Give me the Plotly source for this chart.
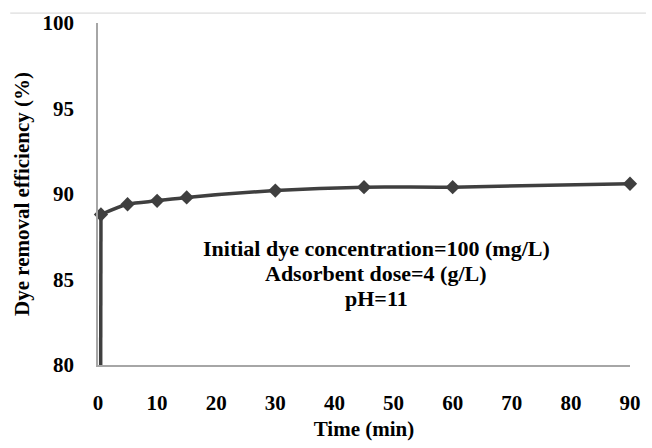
import plotly.graph_objects as go

# Contact time (min) and dye removal efficiency (%)
time_min = [0, 0.5, 5, 10, 15, 30, 45, 60, 90]
removal_pct = [0, 88.8, 89.4, 89.6, 89.8, 90.2, 90.4, 90.4, 90.6]

x_ticks = [0, 10, 20, 30, 40, 50, 60, 70, 80, 90]
y_ticks = [80, 85, 90, 95, 100]

conditions = [
    "Initial dye concentration=100 (mg/L)",
    "Adsorbent dose=4 (g/L)",
    "pH=11",
]

SERIF = "Liberation Serif"
LINE = "#3f3f3f"
AXIS = "#a6a6a6"

fig = go.Figure()
# steep initial rise from the origin to the first measurement
fig.add_trace(go.Scatter(
    x=time_min[:2], y=removal_pct[:2], mode="lines",
    line=dict(color=LINE, width=3.5),
    showlegend=False, hoverinfo="skip",
))
# measured points joined by a smoothed line
fig.add_trace(go.Scatter(
    x=time_min[1:], y=removal_pct[1:],
    mode="lines+markers",
    line=dict(color=LINE, width=3.5, shape="spline", smoothing=0.8),
    marker=dict(symbol="diamond", size=11, color=LINE),
    cliponaxis=False,
    showlegend=False,
))

# Experimental conditions, centred in the plot area
for i, txt in enumerate(conditions):
    fig.add_annotation(
        x=47.1, y=86.8 - i * 1.445, xref="x", yref="y",
        text=txt, showarrow=False,
        font=dict(family=SERIF, size=22, color="black", weight="bold"),
    )

# Thin rule across the top of the figure
fig.add_shape(type="line", xref="paper", yref="paper",
              x0=-0.165, x1=1.03, y0=1.029, y1=1.029,
              line=dict(color="#d4d4d4", width=1))

fig.update_layout(
    width=652, height=448,
    margin=dict(l=98, r=11, t=20, b=80),
    paper_bgcolor="white", plot_bgcolor="white",
    font=dict(family=SERIF, color="black"),
)
fig.update_xaxes(
    range=[0, 90], tickvals=x_ticks, showgrid=False, zeroline=False,
    showline=True, linecolor=AXIS, linewidth=1.5, ticks="",
    tickfont=dict(family=SERIF, size=21, color="black", weight="bold"),
    ticklabelstandoff=18,
    title=dict(text="Time (min)", standoff=7,
               font=dict(family=SERIF, size=21, color="black", weight="bold")),
)
fig.update_yaxes(
    range=[80, 100], tickvals=y_ticks, showgrid=False, zeroline=False,
    showline=True, linecolor=AXIS, linewidth=1.5, ticks="",
    tickfont=dict(family=SERIF, size=21, color="black", weight="bold"),
    ticklabelstandoff=18,
    title=dict(text="Dye removal efficiency (%)", standoff=7,
               font=dict(family=SERIF, size=21, color="black", weight="bold")),
)

fig.write_html("out.html")
